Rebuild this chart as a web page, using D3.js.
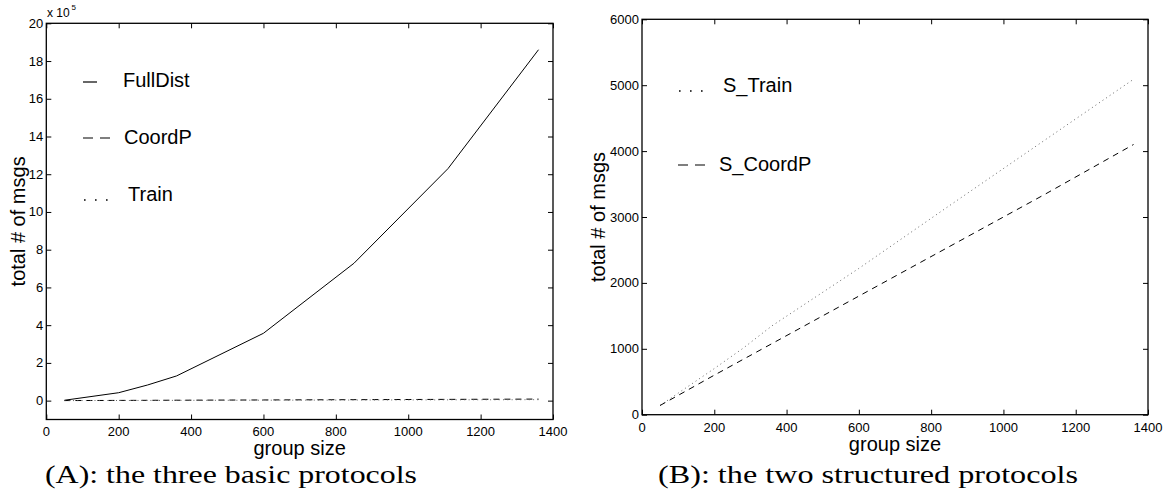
<!DOCTYPE html>
<html>
<head>
<meta charset="utf-8">
<script src="https://cdn.jsdelivr.net/npm/d3@7"></script>
<style>
  body { margin: 0; background: #fff; }
  svg text { font-family: "Liberation Sans", Arial, sans-serif; fill: #000; }
  svg text.caption { font-family: "Liberation Serif", "Times New Roman", serif; }
</style>
</head>
<body>
<svg id="chart" width="1169" height="501"></svg>
<script>
// group sizes used in both panels
var groupSize = [50, 200, 280, 360, 600, 850, 1110, 1360];

// panel A: three basic protocols (total msgs)
var fullDist = [2000, 42000, 83000, 131000, 357000, 728000, 1230000, 1860000];
var coordP   = [300, 1200, 1700, 2200, 3600, 5100, 6700, 8200];
var train    = [150, 700, 1000, 1350, 2200, 3150, 4150, 5090];

// panel B: two structured protocols
var sTrain  = [140, 700, 1010, 1350, 2220, 3170, 4150, 5090];
var sCoordP = [140, 600, 840, 1080, 1800, 2550, 3330, 4100];

var xTicks = [0, 200, 400, 600, 800, 1000, 1200, 1400];
var yTicksA = [0, 2, 4, 6, 8, 10, 12, 14, 16, 18, 20];
var yTicksB = [0, 1000, 2000, 3000, 4000, 5000, 6000];

var svg = d3.select("#chart");

function drawPanel(cfg) {
  var x = d3.scaleLinear().domain([0, 1400]).range([cfg.left, cfg.right]);
  var y = d3.scaleLinear().domain(cfg.yDomain).range([cfg.bottom, cfg.top]);
  var g = svg.append("g");

  // inward ticks on all four sides
  g.append("g").attr("transform", "translate(0," + cfg.bottom + ")")
    .call(d3.axisTop(x).tickValues(xTicks).tickSize(5).tickFormat(""));
  g.append("g").attr("transform", "translate(0," + cfg.top + ")")
    .call(d3.axisBottom(x).tickValues(xTicks).tickSize(5).tickFormat(""));
  g.append("g").attr("transform", "translate(" + cfg.left + ",0)")
    .call(d3.axisRight(y).tickValues(cfg.yTicks).tickSize(5).tickFormat(""));
  g.append("g").attr("transform", "translate(" + cfg.right + ",0)")
    .call(d3.axisLeft(y).tickValues(cfg.yTicks).tickSize(5).tickFormat(""));
  g.selectAll(".domain").remove();
  g.selectAll(".tick line").attr("stroke", "#000").attr("stroke-width", 1);

  g.append("rect")
    .attr("x", cfg.left).attr("y", cfg.top)
    .attr("width", cfg.right - cfg.left).attr("height", cfg.bottom - cfg.top)
    .attr("fill", "none").attr("stroke", "#000").attr("stroke-width", 1.3);

  // tick labels
  g.selectAll(".xl").data(xTicks).enter().append("text")
    .attr("x", function(d){ return x(d); })
    .attr("y", cfg.xLabelY)
    .attr("text-anchor", "middle").attr("font-size", 13)
    .text(function(d){ return d; });
  g.selectAll(".yl").data(cfg.yTicks).enter().append("text")
    .attr("x", cfg.left - 3)
    .attr("y", function(d){ return y(d) + 4.5; })
    .attr("text-anchor", "end").attr("font-size", 13)
    .text(function(d){ return cfg.yFormat(d); });

  // axis titles
  g.append("text")
    .attr("x", (cfg.left + cfg.right) / 2 + cfg.titleShift).attr("y", cfg.xTitleY)
    .attr("text-anchor", "middle").attr("font-size", 20)
    .text("group size");
  g.append("text")
    .attr("transform", "translate(" + cfg.yTitleX + "," + ((cfg.top + cfg.bottom) / 2) + ") rotate(-90)")
    .attr("text-anchor", "middle").attr("font-size", 20)
    .text("total # of msgs");

  // series
  cfg.series.forEach(function(s) {
    var line = d3.line()
      .x(function(d, i){ return x(groupSize[i]); })
      .y(function(d){ return y(d / cfg.div); });
    g.append("path")
      .datum(s.values)
      .attr("d", line)
      .attr("fill", "none")
      .attr("stroke", s.color)
      .attr("stroke-width", s.width)
      .attr("stroke-dasharray", s.dash);
  });

  // legend
  cfg.legend.forEach(function(l) {
    g.append("line")
      .attr("x1", l.x1).attr("x2", l.x2).attr("y1", l.ly).attr("y2", l.ly)
      .attr("stroke", "#000").attr("stroke-width", l.dots ? 1.6 : 1.2)
      .attr("stroke-dasharray", l.dash);
    g.append("text")
      .attr("x", l.tx).attr("y", l.ty)
      .attr("font-size", 20)
      .text(l.label);
  });

  // caption
  g.append("text")
    .attr("class", "caption")
    .attr("x", cfg.capX).attr("y", 483)
    .attr("font-size", 25)
    .attr("textLength", cfg.capLen).attr("lengthAdjust", "spacingAndGlyphs")
    .text(cfg.caption);

  return g;
}

var dashed = "6,5";
var dotted = "1,3.3";

var gA = drawPanel({
  left: 46.3, right: 553, top: 23.3, bottom: 419.5,
  yDomain: [-1, 20], yTicks: yTicksA, div: 1e5,
  yFormat: function(d){ return d; },
  xLabelY: 436, xTitleY: 455, titleShift: 0, yTitleX: 25,
  series: [
    { values: fullDist, color: "#000", width: 1, dash: null },
    { values: coordP, color: "#000", width: 1, dash: dashed },
    { values: train, color: "#666", width: 1, dash: dotted }
  ],
  legend: [
    { x1: 83, x2: 97, ly: 82, dash: null, label: "FullDist", tx: 123, ty: 87 },
    { x1: 83, x2: 110, ly: 138, dash: "10,7", label: "CoordP", tx: 124, ty: 144 },
    { x1: 84, x2: 110, ly: 200, dash: "1.6,9.4", dots: true, label: "Train", tx: 128, ty: 201 }
  ],
  caption: "(A): the three basic protocols", capX: 45, capLen: 372
});

// "x 10^5" exponent label
gA.append("text").attr("x", 47).attr("y", 17).attr("font-size", 12).text("x 10");
gA.append("text").attr("x", 71.5).attr("y", 10).attr("font-size", 8).text("5");

drawPanel({
  left: 642, right: 1148, top: 19.3, bottom: 414.7,
  yDomain: [0, 6000], yTicks: yTicksB, div: 1,
  yFormat: function(d){ return d; },
  xLabelY: 432, xTitleY: 451, titleShift: 0, yTitleX: 605,
  series: [
    { values: sTrain, color: "#666", width: 1, dash: dotted },
    { values: sCoordP, color: "#000", width: 1, dash: dashed }
  ],
  legend: [
    { x1: 679, x2: 705, ly: 91, dash: "1.6,9.4", dots: true, label: "S_Train", tx: 723, ty: 92 },
    { x1: 678, x2: 705, ly: 165, dash: "10,7", label: "S_CoordP", tx: 719, ty: 171 }
  ],
  caption: "(B): the two structured protocols", capX: 658, capLen: 420
});
</script>
</body>
</html>
